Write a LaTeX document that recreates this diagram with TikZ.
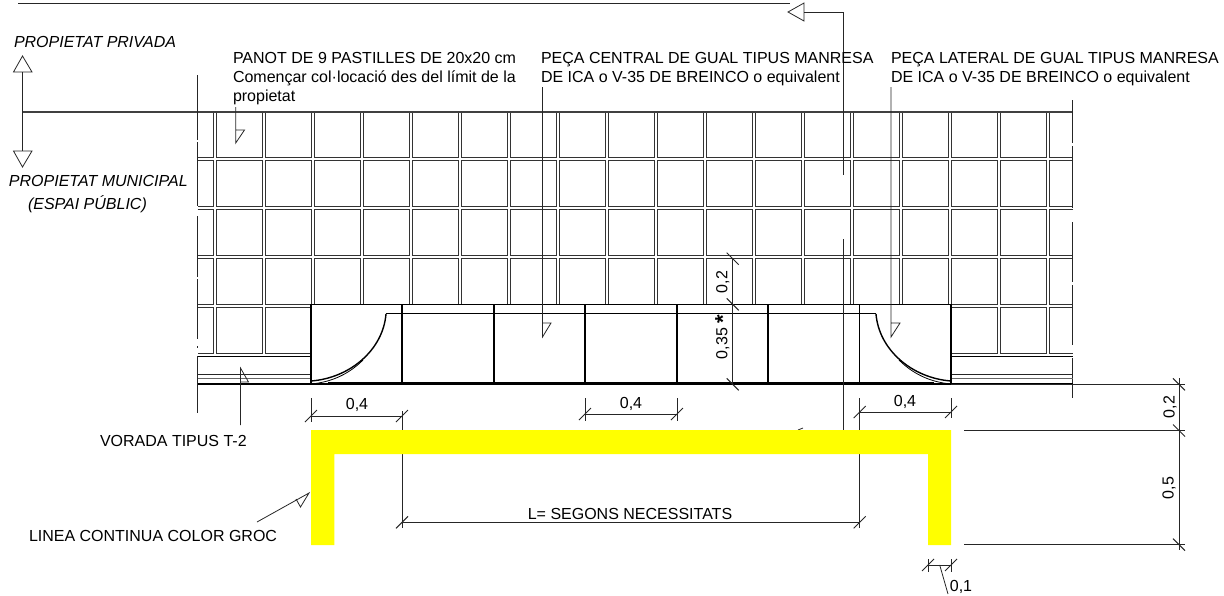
\documentclass[tikz,border=0pt]{standalone}
\usepackage{fontspec}
\setmainfont{Liberation Sans}
\definecolor{groc}{RGB}{255,255,0}
\tikzset{
  every node/.style={inner sep=0pt,outer sep=0pt,text=black},
  lbl/.style={font=\fontsize{16}{19}\selectfont,align=left,anchor=north west},
  ital/.style={font=\fontsize{16}{19}\itshape\selectfont,anchor=west},
  dimtxt/.style={font=\fontsize{16}{19}\selectfont},
  tile/.style={draw=black!80,line width=.9pt},
  thin line/.style={draw=black!85,line width=.8pt},
  heavy/.style={draw=black,line width=1.5pt},
  flag/.style={draw=black!85,line width=.8pt,fill=none,line join=miter},
  kerbfill/.style={fill=white,draw=black,line width=1.1pt},
}
\newcommand{\tickF}[2]{\draw[black!85,line width=1pt] (#1-6,#2+6) -- (#1+6,#2-6);}
\newcommand{\tickB}[2]{\draw[black!85,line width=1pt] (#1-6,#2-6) -- (#1+6,#2+6);}
\begin{document}
\begin{tikzpicture}[x=1pt,y=-1pt]
\useasboundingbox (0,0) rectangle (1224,595);
% ---- tiles
\foreach \yt/\yb in {112/157.3,160.7/206.3,209.3/255.3,258.7/304.3,307.7/353.3}{
  \draw[tile] (197.5,\yt) -- (213,\yt) -- (213,\yb) -- (197.5,\yb);
  \draw[tile] (1073,\yt) -- (1049,\yt) -- (1049,\yb) -- (1073,\yb);
  \foreach \k in {0,...,16}{
    \draw[tile] ({216+49*\k},\yt) rectangle ({213+49*(\k+1)},\yb);
  }
}
% ---- property line
\draw[draw=black!75,line width=1.1pt] (22.5,112) -- (1073,112);
% ---- edge centre lines
\foreach \a/\b in {75/140,142/206,216/277,279/339,346/348,356/413}{
  \draw[thin line] (197.5,\a) -- (197.5,\b);}
\foreach \a/\b in {100/143,146/208,222/282,285/345,358/398}{
  \draw[thin line] (1072.7,\a) -- (1072.7,\b);}
% ---- kerb band
\foreach \xa/\xb in {197.5/311,951/1073}{
  \draw[heavy] (\xa,356.7) -- (\xb,356.7);
  \draw[thin line] (\xa,374.3) -- (\xb,374.3);
  \draw[draw=black!60,line width=.8pt] (\xa,378.3) -- (\xb,378.3);
  \draw[heavy] (\xa,384) -- (\xb,384);
}
% ---- crossing piece
\draw[kerbfill] (311,304.3) rectangle (951,384);
\draw[draw=black,line width=.9pt] (386,313.7) -- (876,313.7);
\foreach \x in {402,494,585,677,768,859.7}{
  \draw[draw=black,line width=1.4pt] (\x,304.3) -- (\x,384);}
\draw[draw=black,line width=1.4pt] (386,314) .. controls (383,350) and (350,378) .. (311,381);
\draw[draw=black,line width=.8pt] (363,360) .. controls (350,373) and (333,382) .. (311,384);
\draw[draw=black,line width=1.4pt] (876,314) .. controls (879,350) and (912,378) .. (951,381);
\draw[draw=black,line width=.8pt] (899,360) .. controls (912,373) and (929,382) .. (951,384);
\draw[draw=black,line width=3pt] (328,383) -- (934,383);
% ---- dimension ext lines under the yellow
\draw[thin line] (402,411) -- (402,528);
\draw[thin line] (859.7,398) -- (859.7,528);
\draw[thin line] (843,239) -- (843,430);
\draw[thin line] (798,430) -- (803,428);
% ---- yellow line
\fill[groc] (311,430) -- (951,430) -- (951,545) -- (928,545) -- (928,454) -- (334.3,454) -- (334.3,545) -- (311,545) -- cycle;
% ---- top leader
\draw[thin line] (18,3) -- (790,3);
\draw[thin line] (804,12) -- (843,12) -- (843,175);
\draw[flag] (788,12) -- (804,3) -- (804,21) -- cycle;
% ---- property arrows
\draw[thin line] (22.5,72) -- (22.5,151);
\draw[flag] (22.5,56) -- (13.5,72) -- (32,72) -- cycle;
\draw[flag] (22.5,167) -- (13.5,151) -- (32,151) -- cycle;
% ---- leaders
\draw[flag] (235.7,107) -- (235.7,143) -- (244.5,130) -- (235.7,130);
\draw[flag] (542.5,87) -- (542.5,337) -- (551,323) -- (542.5,323);
\draw[flag] (891,87) -- (891,337) -- (900,323) -- (891,323);
\draw[flag] (240.5,425) -- (240.5,368) -- (248.5,382) -- (240.5,382);
\draw[flag] (257,522) -- (309,493) -- (300.5,507) -- (296,499);
% ---- dimensions
\draw[thin line] (311,398) -- (311,422);
\draw[thin line] (311,416) -- (402,416);
\tickF{311}{416}\tickF{402}{416}
\draw[thin line] (585,398) -- (585,421);
\draw[thin line] (677,398) -- (677,421);
\draw[thin line] (585,414) -- (677,414);
\tickF{585}{414}\tickF{677}{414}
\draw[thin line] (951,398) -- (951,418);
\draw[thin line] (859.7,412) -- (951,412);
\tickF{859.7}{412}\tickF{951}{412}
\draw[thin line] (402,522.3) -- (859.7,522.3);
\tickF{402}{522.3}\tickF{859.7}{522.3}
\draw[thin line] (732.7,258.7) -- (732.7,384);
\tickB{732.7}{258.7}\tickB{732.7}{304.3}\tickB{732.7}{384.3}
\draw[thin line] (951,384.3) -- (1185,384.3);
\draw[thin line] (964,430.5) -- (1185,430.5);
\draw[thin line] (964,544.7) -- (1185,544.7);
\draw[thin line] (1179,378) -- (1179,550);
\tickB{1179}{384.3}\tickB{1179}{430.5}\tickB{1179}{544.7}
\draw[thin line] (928,559) -- (928,572);
\draw[thin line] (951,559) -- (951,572);
\draw[thin line] (928,565) -- (951,565);
\tickF{928}{565}\tickF{951}{565}
\draw[thin line] (939.7,565) -- (948,594);
% ---- texts
\node[ital] (priv) at (14,42) {PROPIETAT PRIVADA};
\node[ital] (muni) at (9,181) {PROPIETAT MUNICIPAL};
\node[ital] (espai) at (28,204) {(ESPAI PÚBLIC)};
\node[lbl] (panot) at (233,52.5) {PANOT DE 9 PASTILLES DE 20x20 cm\\Començar col·locació des del límit de la\\propietat};
\node[lbl] (central) at (541,52.5) {PEÇA CENTRAL DE GUAL TIPUS MANRESA\\DE ICA o V-35 DE BREINCO o equivalent};
\node[lbl] (lateral) at (891,52.5) {PEÇA LATERAL DE GUAL TIPUS MANRESA\\DE ICA o V-35 DE BREINCO o equivalent};
\node[dimtxt,anchor=west] (vorada) at (100,441) {VORADA TIPUS T-2};
\node[dimtxt,anchor=west] (linea) at (29,536) {LINEA CONTINUA COLOR GROC};
\node[dimtxt] (a) at (357,405) {0,4};
\node[dimtxt] (b) at (631,404) {0,4};
\node[dimtxt] (c) at (905,402) {0,4};
\node[dimtxt] (l) at (630,514) {L= SEGONS NECESSITATS};
\node[dimtxt,rotate=90] (d) at (722.7,282) {0,2};
\node[dimtxt,rotate=90] (e) at (722.7,337) {0,35 {\fontsize{22}{22}\bfseries\selectfont\raisebox{-3pt}{*}}};
\node[dimtxt,rotate=90] (f) at (1170,407) {0,2};
\node[dimtxt,rotate=90] (g) at (1169,488) {0,5};
\node[dimtxt] (h) at (961,587) {0,1};
\end{tikzpicture}
\end{document}
